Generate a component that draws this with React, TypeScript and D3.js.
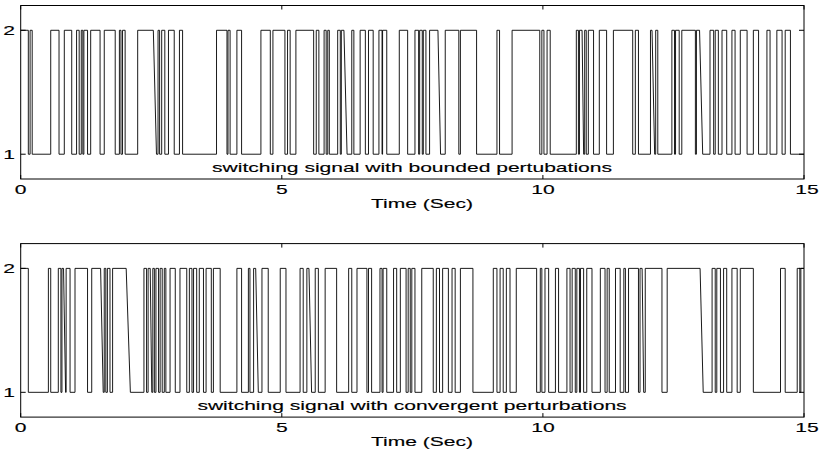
import React from "react";
import * as d3 from "d3";

// time axis
const timeTicks = [0, 5, 10, 15];
const levelTicks = [1, 2];

// spans where the signal is at level 2: [rise, fall] or [rise, fall, fallEnd] for a sloped drop
const boundedOn: number[][] = [
  [0, 0.146], [0.18, 0.22], [0.575, 0.734], [0.835, 0.977], [1.07, 1.12], [1.16, 1.19],
  [1.21, 1.28], [1.34, 1.52], [1.6, 1.81], [1.89, 1.92], [1.95, 2.0], [2.24, 2.54, 2.6],
  [2.63, 2.66], [2.7, 2.76], [2.83, 2.94], [3.04, 3.1], [3.75, 3.95], [3.97, 4.01],
  [4.14, 4.23], [4.6, 4.78], [4.83, 5.06], [5.11, 5.16], [5.27, 5.61], [5.66, 5.71],
  [5.81, 5.85], [5.88, 5.91], [6.07, 6.12], [6.14, 6.19, 6.25], [6.34, 6.38], [6.5, 6.6],
  [6.66, 6.75], [6.86, 6.92], [6.93, 7.01], [7.25, 7.41], [7.55, 7.62], [7.64, 7.69],
  [7.71, 7.76], [7.83, 7.99, 8.04], [8.13, 8.39], [8.42, 8.73], [9.12, 9.17], [9.41, 9.94],
  [9.98, 10.02], [10.08, 10.14], [10.64, 10.68], [10.7, 10.75, 10.78], [10.8, 10.83],
  [10.87, 10.97], [11.08, 11.22], [11.35, 11.72], [11.77, 11.83], [12.06, 12.09, 12.14],
  [12.16, 12.2], [12.47, 12.52], [12.54, 12.61], [12.66, 12.92], [12.94, 13.0, 13.06],
  [13.2, 13.27], [13.3, 13.36], [13.43, 13.52], [13.62, 13.68], [13.78, 13.91],
  [14.03, 14.13], [14.29, 14.35], [14.48, 14.58], [14.64, 14.74],
];

const convergentOn: number[][] = [
  [0, 0.146], [0.53, 0.575], [0.72, 0.77], [0.79, 0.82, 0.86], [0.87, 0.945], [1.04, 1.28],
  [1.36, 1.53, 1.58], [1.6, 1.63], [1.66, 1.71], [1.76, 2.02, 2.1], [2.36, 2.41],
  [2.44, 2.48, 2.51], [2.53, 2.56], [2.59, 2.64], [2.67, 2.71], [2.75, 2.78], [2.86, 2.96],
  [3.05, 3.18], [3.23, 3.28], [3.31, 3.37], [3.42, 3.5], [3.55, 3.65], [3.69, 3.82],
  [4.14, 4.23], [4.36, 4.39], [4.46, 4.5, 4.55], [4.62, 4.74], [4.97, 5.08], [5.35, 5.41],
  [5.48, 5.52, 5.57], [5.64, 5.7], [5.83, 6.05], [6.28, 6.34], [6.44, 6.63], [6.66, 6.72],
  [6.88, 6.92], [6.94, 7.01], [7.14, 7.2], [7.27, 7.38], [7.42, 7.46], [7.49, 7.55],
  [7.68, 7.9], [7.96, 8.02], [8.08, 8.19], [8.26, 8.32], [8.42, 8.66], [9.05, 9.12],
  [9.18, 9.24], [9.3, 9.37], [9.49, 9.88], [9.95, 9.98], [10.04, 10.11], [10.24, 10.3],
  [10.46, 10.52], [10.56, 10.62], [10.65, 10.7], [10.72, 10.78], [10.84, 10.94],
  [11.1, 11.19], [11.23, 11.27], [11.39, 11.48], [11.55, 11.58], [11.64, 11.83],
  [11.86, 11.9, 11.93], [11.96, 12.28], [12.38, 13.01, 13.07], [13.24, 13.3], [13.33, 13.4],
  [13.46, 13.52], [13.62, 13.72], [13.78, 14.03], [14.55, 14.64], [14.87, 14.92], [14.94, 15],
];

const panels = [
  { spans: boundedOn, label: "switching signal with bounded pertubations", top: 5.5 },
  { spans: convergentOn, label: "switching signal with convergent perturbations", top: 243.6 },
];

const W = 823;
const H = 454;
const left = 20.7;
const right = 804;
const boxH = 173.5;
const font = "'Liberation Sans', Arial, Helvetica, sans-serif";
const fs = 13.5;
const sx = 1.56; // glyphs in the picture are stretched horizontally

function toPoints(spans: number[][]): [number, number][] {
  const pts: [number, number][] = [];
  if (spans[0][0] > 0) pts.push([0, 1]);
  spans.forEach(([r, f, fe]) => {
    if (r > 0) pts.push([r, 1]);
    pts.push([r, 2]);
    pts.push([f, 2]);
    if (f < 15) pts.push([fe ?? f, 1]);
  });
  const last = pts[pts.length - 1];
  if (last[0] < 15) pts.push([15, 1]);
  return pts;
}

function Label({ x, y, text, anchor = "middle" }: { x: number; y: number; text: string; anchor?: string }) {
  return (
    <text
      transform={`translate(${x},${y}) scale(${sx},1)`}
      textAnchor={anchor}
      fontFamily={font}
      fontSize={fs}
      fill="#000"
      stroke="#000"
      strokeWidth={0.15}
    >
      {text}
    </text>
  );
}

function Panel({ spans, label, top }: { spans: number[][]; label: string; top: number }) {
  const x = d3.scaleLinear().domain([0, 15]).range([left, right]);
  const y = d3.scaleLinear().domain([0.8, 2.2]).range([top + boxH, top]);
  const line = d3
    .line<[number, number]>()
    .x((d) => x(d[0]))
    .y((d) => y(d[1]));
  const bottom = top + boxH;
  return (
    <g>
      <path d={line(toPoints(spans)) ?? ""} fill="none" stroke="#000" strokeWidth={0.9} />
      <rect x={left} y={top} width={right - left} height={boxH} fill="none" stroke="#000" strokeWidth={1} />
      {timeTicks.map((t) => (
        <g key={t}>
          <line x1={x(t)} x2={x(t)} y1={bottom} y2={bottom - 4} stroke="#000" />
          <line x1={x(t)} x2={x(t)} y1={top} y2={top + 4} stroke="#000" />
          <Label x={x(t) + (t === 15 ? 3 : 0)} y={bottom + 14.5} text={String(t)} />
        </g>
      ))}
      {levelTicks.map((v) => (
        <g key={v}>
          <line x1={left} x2={left + 5} y1={y(v)} y2={y(v)} stroke="#000" />
          <line x1={right} x2={right - 5} y1={y(v)} y2={y(v)} stroke="#000" />
          <Label x={15} y={y(v) + 5} text={String(v)} anchor="end" />
        </g>
      ))}
      <Label x={412} y={top + 166.2} text={label} />
      <Label x={422} y={bottom + 29} text="Time (Sec)" />
    </g>
  );
}

export default function App() {
  return (
    <div style={{ position: "absolute", left: 0, top: 0 }}>
      <svg width={W} height={H} style={{ display: "block", background: "#fff" }}>
        {panels.map((p) => (
          <Panel key={p.label} spans={p.spans} label={p.label} top={p.top} />
        ))}
      </svg>
    </div>
  );
}
